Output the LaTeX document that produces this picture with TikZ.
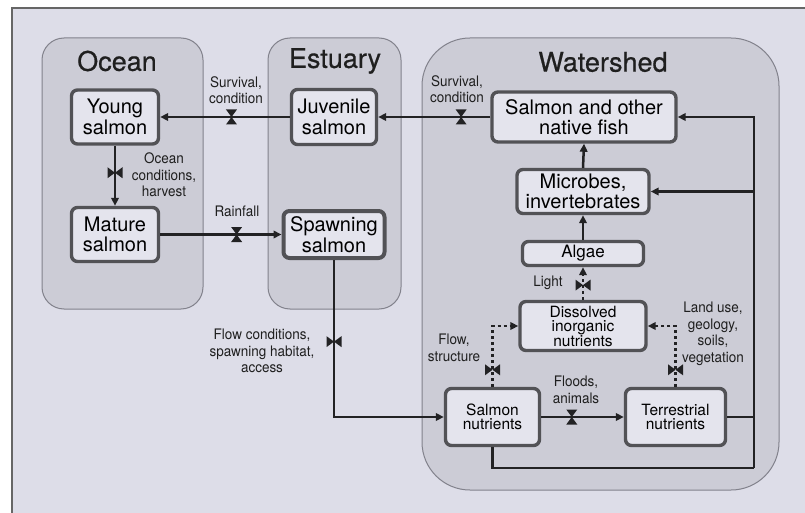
\documentclass[tikz,border=0pt]{standalone}
\usepackage{fontspec}
\setmainfont{TeX Gyre Heros}
\newfontfamily\narrowfont[FakeStretch=0.93]{TeX Gyre Heros}
\newfontfamily\titlefont[FakeBold=0.6]{TeX Gyre Heros}
\usetikzlibrary{arrows.meta,positioning}
\definecolor{frameBg}{RGB}{221,221,232}
\definecolor{panelFill}{RGB}{204,204,214}
\definecolor{panelLine}{RGB}{130,130,140}
\definecolor{boxFill}{RGB}{228,228,237}
\definecolor{boxLine}{RGB}{82,82,86}
\definecolor{flowLine}{RGB}{34,34,36}
\tikzset{
  panel/.style={draw=panelLine, line width=1pt, fill=panelFill, rounded corners=22pt},
  paneltitle/.style={font=\titlefont\fontsize{27}{27}\selectfont, text=black!88},
  stockbox/.style={
    rectangle, rounded corners=6pt, draw=boxLine, line width=3.4pt,
    fill=boxFill, align=center, inner sep=1pt,
    font=\fontsize{20}{20.5}\selectfont
  },
  smallbox/.style={stockbox, font=\fontsize{15.5}{14.5}\selectfont},
  flowlabel/.style={align=center, font=\narrowfont\fontsize{14.5}{16.5}\selectfont, text=black!88},
  flow/.style={-{Triangle[length=8pt,width=7.5pt]}, line width=2.5pt, draw=flowLine},
  dotflow/.style={flow, dash pattern=on 3pt off 3pt},
  valveh/.style={
    rectangle, inner sep=0pt, minimum width=11pt, minimum height=15pt,
    path picture={\fill[flowLine] (path picture bounding box.north west)
      -- (path picture bounding box.north east)
      -- (path picture bounding box.south west)
      -- (path picture bounding box.south east) -- cycle;}
  },
  valvev/.style={
    rectangle, inner sep=0pt, minimum width=15pt, minimum height=11pt,
    path picture={\fill[flowLine] (path picture bounding box.north west)
      -- (path picture bounding box.south west)
      -- (path picture bounding box.north east)
      -- (path picture bounding box.south east) -- cycle;}
  }
}
\begin{document}
\begin{tikzpicture}[x=1pt,y=-1pt]
  \useasboundingbox (0,0) rectangle (805,513);
  \fill[white] (0,0) rectangle (805,513);
  \fill[frameBg] (12,8) rectangle (805,513);
  \draw[black!60, line width=1.5pt] (12,513) -- (12,8) -- (805,8);

  % regions
  \draw[panel] (42,38) rectangle (203,309);
  \draw[panel] (268,38) rectangle (401,309);
  \draw[panel, rounded corners=48pt] (422,38) rectangle (779,490);
  \node[paneltitle] (ocean) at (117,61) {Ocean};
  \node[paneltitle] (estuary) at (335,61) {Estuary};
  \node[paneltitle] (watershed) at (603,62) {Watershed};

  % stocks
  \node[stockbox, minimum width=87pt, minimum height=54pt] (young) at (115,117) {Young\\salmon};
  \node[stockbox, minimum width=85pt, minimum height=55pt] (juvenile) at (334,117) {Juvenile\\salmon};
  \node[stockbox, minimum width=87pt, minimum height=54pt] (mature) at (115,234.5) {Mature\\salmon};
  \node[stockbox, minimum width=101pt, minimum height=47pt, line width=4pt] (spawning) at (334,234.5) {Spawning\\salmon};
  \node[stockbox, minimum width=184pt, minimum height=50pt] (fish) at (584,117) {Salmon and other\\native fish};
  \node[stockbox, minimum width=132pt, minimum height=44pt] (microbes) at (583,191.5) {Microbes,\\invertebrates};
  \node[stockbox, minimum width=121pt, minimum height=24pt, font=\fontsize{17}{17}\selectfont] (algae) at (583,253.5) {Algae};
  \node[smallbox, minimum width=126pt, minimum height=49pt] (dissolved) at (583,326) {Dissolved\\inorganic\\nutrients};
  \node[smallbox, minimum width=94pt, minimum height=57pt] (salmonnut) at (492.5,417) {Salmon\\nutrients};
  \node[smallbox, minimum width=100pt, minimum height=57pt] (terrnut) at (675.5,417) {Terrestrial\\nutrients};

  % flows
  \draw[flow] (juvenile.west) -- node[valveh, pos=.45] (v1) {} (young.east);
  \draw[flow] (fish.west) -- node[valveh, pos=.26] (v2) {} (juvenile.east);
  \draw[flow] (young.south) -- node[valvev, pos=.45] (v3) {} (mature.north);
  \draw[flow] (mature.east) -- node[valveh, pos=.63] (v4) {} (spawning.west);
  \draw[flow] (spawning.south) |- node[valvev, pos=.26] (v5) {} (salmonnut.west);
  \draw[flow] (microbes.north) -- (fish.south);
  \draw[flow] (algae.north) -- (microbes.south);
  \draw[dotflow] (dissolved.north) -- node[valvev, pos=.45] (v6) {} (algae.south);
  \draw[dotflow] (salmonnut.north) |- node[valvev, pos=.14] (v7) {} (dissolved.west);
  \draw[dotflow] (terrnut.north) |- node[valvev, pos=.14] (v8) {} (dissolved.east);
  \draw[flow] (salmonnut.east) -- node[valveh, pos=.37] (v9) {} (terrnut.west);
  \coordinate (trunk) at (754,468);
  \draw[flow, -] (salmonnut.south) |- (trunk);
  \draw[flow, -] (terrnut.east) -| (trunk);
  \draw[flow] (trunk) |- (fish.east);
  \draw[flow] (trunk) |- (microbes.east);

  % flow labels
  \node[flowlabel] (l1) at (236,90) {Survival,\\condition};
  \node[flowlabel] (l2) at (457,89) {Survival,\\condition};
  \node[flowlabel] (l3) at (164,175) {Ocean\\conditions,\\harvest};
  \node[flowlabel] (l4) at (237,211) {Rainfall};
  \node[flowlabel] (l5) at (262,351) {Flow conditions,\\spawning habitat,\\access};
  \node[flowlabel] (l6) at (548,283) {Light};
  \node[flowlabel] (l7) at (454,348) {Flow,\\structure};
  \node[flowlabel] (l8) at (713,334) {Land use,\\geology,\\soils,\\vegetation};
  \node[flowlabel] (l9) at (576,390) {Floods,\\animals};
\end{tikzpicture}
\end{document}
